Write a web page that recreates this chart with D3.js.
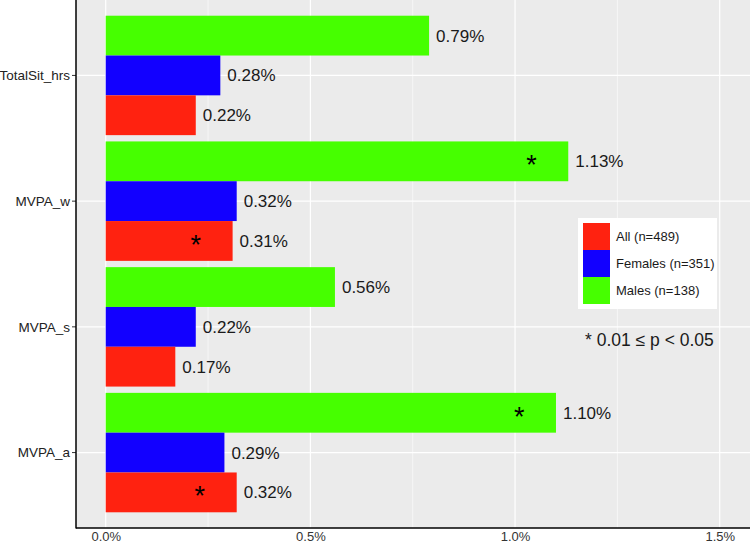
<!DOCTYPE html>
<html><head><meta charset="utf-8">
<script src="https://cdn.jsdelivr.net/npm/d3@7"></script>
<style>body{margin:0;background:#fff}svg{display:block}text{font-family:"Liberation Sans",Arial,sans-serif}</style>
</head><body><svg id="c" width="750" height="543"></svg>
<script>
const categories = ["TotalSit_hrs","MVPA_w","MVPA_s","MVPA_a"];
const groups = ["Males (n=138)","Females (n=351)","All (n=489)"];
const legendOrder = ["All (n=489)","Females (n=351)","Males (n=138)"];
const colors = ["#46FF00","#1200FF","#FF2210"];
const males   = [0.79, 1.13, 0.56, 1.10];
const females = [0.28, 0.32, 0.22, 0.29];
const all     = [0.22, 0.31, 0.17, 0.32];
const starMales = [false, true, false, true];
const starFemales = [false, false, false, false];
const starAll = [false, true, false, true];
const xTicks = [0, 0.5, 1.0, 1.5];
const xMinor = [0.25, 0.75, 1.25];
const note = "* 0.01 ≤ p < 0.05";

const series = [males, females, all];
const stars = [starMales, starFemales, starAll];
const svg = d3.select("#c");
const L = 76, R = 750, T = 0, B = 528;
const x = d3.scaleLinear().domain([-0.0726, 1.574]).range([L, R]);
const y = d3.scalePoint().domain(categories).range([T, B]).padding(0.6);
const step = y.step();
const cy = c => y(c);
const inner = d3.scaleBand().domain(groups).range([-0.475*step, 0.475*step]);

svg.append("rect").attr("x",L).attr("y",T).attr("width",R-L).attr("height",B-T).attr("fill","#EBEBEB");
const g = svg.append("g");
xMinor.forEach(v => g.append("line").attr("x1",x(v)).attr("x2",x(v)).attr("y1",T).attr("y2",B).attr("stroke","#fff").attr("stroke-width",0.6));
xTicks.forEach(v => g.append("line").attr("x1",x(v)).attr("x2",x(v)).attr("y1",T).attr("y2",B).attr("stroke","#fff").attr("stroke-width",1.2));
categories.forEach(c => g.append("line").attr("x1",L).attr("x2",R).attr("y1",cy(c)).attr("y2",cy(c)).attr("stroke","#fff").attr("stroke-width",1.2));

categories.forEach((c, i) => {
  groups.forEach((grp, j) => {
    const v = series[j][i];
    const y0 = cy(c) + inner(grp);
    const h = inner.bandwidth();
    g.append("rect").attr("x", x(0)).attr("y", y0).attr("width", x(v)-x(0)).attr("height", h).attr("fill", colors[j]);
    g.append("text").attr("x", x(v)+7).attr("y", y0+h/2).attr("dy","0.35em").attr("font-size",17).attr("fill","#1a1a1a").text(v.toFixed(2)+"%");
    if (stars[j][i]) {
      g.append("text").attr("x", x(v-0.09)).attr("y", y0+h/2+13).attr("text-anchor","middle").attr("font-size",27).attr("fill","#000").text("*");
    }
  });
});

// axes
const xa = svg.append("g").attr("transform",`translate(0,${B})`).call(d3.axisBottom(x).tickValues(xTicks).tickSize(0).tickFormat(d => d.toFixed(1)+"%"));
xa.select(".domain").remove();
xa.selectAll("text").attr("font-size",13).attr("fill","#333").attr("dy",null).attr("y",13);
const ya = svg.append("g").attr("transform",`translate(${L},0)`);
categories.forEach(c => {
  ya.append("line").attr("x1",-4).attr("x2",0).attr("y1",cy(c)).attr("y2",cy(c)).attr("stroke","#333");
  ya.append("text").attr("x",-6).attr("y",cy(c)).attr("dy","0.35em").attr("text-anchor","end").attr("font-size",13.5).attr("fill","#222").text(c);
});
svg.append("line").attr("x1",L).attr("x2",L).attr("y1",T).attr("y2",B+0.5).attr("stroke","#000").attr("stroke-width",1.5);
svg.append("line").attr("x1",L).attr("x2",R).attr("y1",B).attr("y2",B).attr("stroke","#000").attr("stroke-width",1.5);

// legend
const lg = svg.append("g").attr("transform","translate(578,218)");
lg.append("rect").attr("width",139).attr("height",91).attr("fill","#fff");
legendOrder.forEach((name, k) => {
  const j = groups.indexOf(name);
  lg.append("rect").attr("x",5).attr("y",5+k*27).attr("width",27).attr("height",27).attr("fill",colors[j]);
  lg.append("text").attr("x",38).attr("y",5+k*27+13.5).attr("dy","0.35em").attr("font-size",13).attr("fill","#1a1a1a").text(name);
});
svg.append("text").attr("x",585).attr("y",346).attr("font-size",17.5).attr("fill","#1a1a1a").text(note);
</script></body></html>
